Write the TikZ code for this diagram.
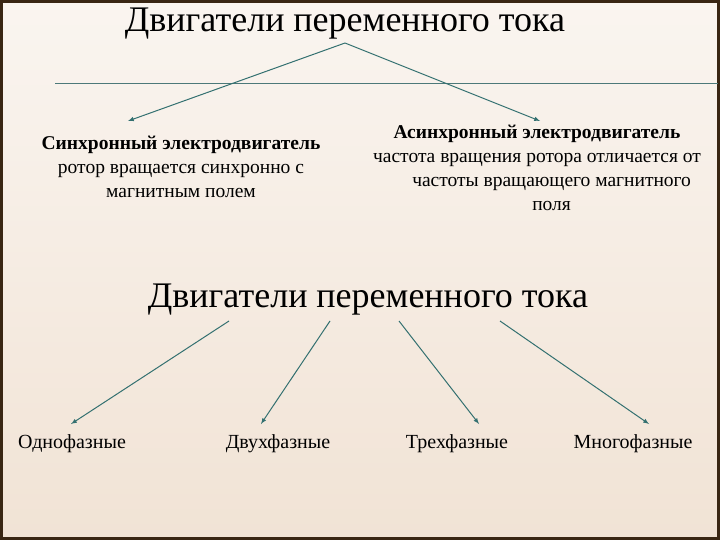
\documentclass[tikz,border=0pt]{standalone}
\usepackage{fontspec}
\setmainfont{Liberation Serif}
\begin{document}
\begin{tikzpicture}[x=1pt,y=-1pt,
  arr/.style={draw=teal!60!black!80, line width=1pt, -latex},
  ttl/.style={font=\fontsize{36}{40}\selectfont, inner sep=0pt},
  body/.style={font=\fontsize{19.5}{24}\selectfont, align=center, inner sep=0pt},
  leaf/.style={font=\fontsize{20}{22}\selectfont, inner sep=0pt}]
\useasboundingbox (0,0) rectangle (720,540);
\shade[top color=white!60!brown!20, bottom color=brown!22!white] (0,0) rectangle (720,540);
\draw[line width=3pt, draw=black!70!brown] (1.5,1.5) rectangle (718.5,538.5);
\coordinate (hl1) at (55,83); \coordinate (hl2) at (718,83);
\draw[teal!50!black!70, line width=0.8pt] (hl1) -- (hl2);
\node[ttl] (t1) at (345,24) {Двигатели переменного тока};
\coordinate (a1) at (345,43);
\coordinate (l1) at (128,121); \coordinate (r1) at (540,121);
\draw[arr] (a1) -- (l1);
\draw[arr] (a1) -- (r1);
\node[body, anchor=north] (s) at (181,136) {\textbf{Синхронный электродвигатель}\\ротор вращается синхронно с\\магнитным полем};
\node[body, anchor=north] (as) at (537,125) {\textbf{Асинхронный электродвигатель}\\частота вращения ротора отличается от\\\hspace*{1.5em}частоты вращающего магнитного\\\hspace*{1.5em}поля};
\node[ttl] (t2) at (368,300) {Двигатели переменного тока};
\coordinate (b1) at (229,321); \coordinate (b2) at (330,321);
\coordinate (b3) at (399,321); \coordinate (b4) at (500,321);
\node[leaf] (p1) at (72,444) {Однофазные};
\node[leaf] (p2) at (278,444) {Двухфазные};
\node[leaf] (p3) at (457,444) {Трехфазные};
\node[leaf] (p4) at (633,444) {Многофазные};
\coordinate (e1) at (71,424); \coordinate (e2) at (261,424);
\coordinate (e3) at (479,424); \coordinate (e4) at (649,424);
\draw[arr] (b1) -- (e1);
\draw[arr] (b2) -- (e2);
\draw[arr] (b3) -- (e3);
\draw[arr] (b4) -- (e4);
\end{tikzpicture}
\end{document}
